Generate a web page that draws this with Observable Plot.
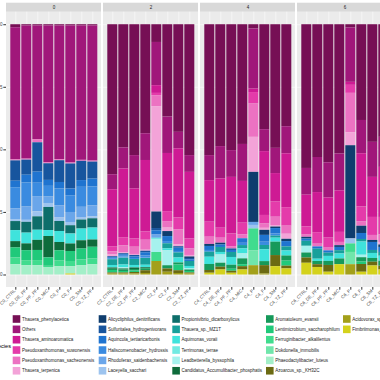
<!DOCTYPE html>
<html><head><meta charset="utf-8">
<script src="https://cdn.jsdelivr.net/npm/d3@7"></script>
<script src="https://cdn.jsdelivr.net/npm/@observablehq/plot@0.6"></script>
<style>
html,body{margin:0;padding:0;background:#fff;overflow:hidden;width:380px;height:380px;}
#chart{width:380px;height:308px;overflow:visible;}
#chart svg{display:block;margin-left:-40px;max-width:none !important;width:440px !important;height:308px !important;}
#legend{display:block;}
</style></head><body>
<div id="chart"></div>
<svg id="legend" width="380" height="72"></svg>
<script>
const days = [0, 2, 4, 6];
const suffixes = ["CTRL","DE_PF","PF_PF","MIC","P","F","SM","TZ_PF"];
const species = [
 "Thauera_phenylacetica","Others","Thauera_aminoaromatica","Pseudoxanthomonas_suwonensis","Pseudoxanthomonas_sacheonensis","Thauera_terpenica",
 "Alicycliphilus_denitrificans","Sulfuritalea_hydrogenivorans","Aquincola_tertiaricarbonis","Haliscomenobacter_hydrossis","Rhodoferax_saidenbachensis","Laceyella_sacchari",
 "Propionivibrio_dicarboxylicus","Thauera_sp._MZ1T","Aquimonas_voraii","Terrimonas_terrae","Leadbetterella_byssophila","Candidatus_Accumulibacter_phosphatis",
 "Aromatoleum_evansii","Lentimicrobium_saccharophilum","Ferruginibacter_alkalilentus","Dokdonella_immobilis","Phaeodactylibacter_luteus","Azoarcus_sp._KH32C",
 "Acidovorax_sp._KKS102","Fimbriimonas_ginsengisoli"];
const colors = [
 "#760F55","#A0177A","#CE1A94","#E43BAA","#EC72C2","#F3A3D8",
 "#0F3D6E","#17559E","#1F74D0","#3A8BE0","#6AA6EA","#9DC4EF",
 "#0D6E6A","#17A09B","#3FE3DC","#72EAE2","#A6F2EE","#0E6B3B",
 "#16995A","#20C97A","#40DC8E","#70E6AB","#A3EFC8","#6B6A12",
 "#A3A01A","#D4D21C"];
const yTicks = [0, 0.25, 0.5, 0.75, 1];

// one row per sample (CTRL..TZ_PF), values in species order
const day0 = [
 [.012,.527,0,0,.004,0, 0,.081,.026,.084,.043,.008, .036,0,.044,0,0,.025, 0,.040,.027,0,.041,0, 0,0],
 [.005,.531,0,0,.004,0, 0,.060,.031,.096,.053,.008, .043,0,.043,0,0,.027, 0,.040,.020,0,.037,0, 0,0],
 [.005,.450,0,0,.012,0, 0,.116,.044,.053,.060,.020, .053,0,.040,0,0,.040, 0,.040,.020,0,.037,0, 0,0],
 [.005,.551,0,0,.004,0, 0,.067,.024,.043,.026,.016, .093,0,.024,0,0,.086, 0,.034,.005,0,.030,0, 0,0],
 [.005,.535,0,0,.004,0, 0,.087,.026,.067,.049,.014, .040,0,.044,0,0,.033, 0,.040,.024,0,.033,0, 0,0],
 [.005,.548,0,0,.004,0, 0,.100,.027,.067,.040,.013, .033,0,.040,0,0,.030, 0,.040,.021,0,.029,0, 0,.004],
 [.005,.538,0,0,.004,0, 0,.077,.027,.080,.043,.008, .036,0,.047,0,0,.033, 0,.044,.023,0,.037,0, 0,0],
 [.005,.541,0,0,.004,0, 0,.068,.031,.076,.044,.008, .037,0,.048,0,0,.029, 0,.047,.023,0,.041,0, 0,0]];
const day2 = [
 [.600,.060,.228,.020,.013,.007, 0,.004,.004,.004,0,0, 0,.023,.010,0,0,.005, .005,.010,0,0,0,.004, .004,0],
 [.492,.084,.275,.033,.027,.004, 0,.004,.006,.004,.004,0, 0,.027,.011,0,.005,.004, .006,.006,0,0,0,.004, .004,0],
 [.523,.133,.200,.033,.029,.004, 0,.006,.006,.004,0,0, 0,.024,.010,0,0,.006, .006,.006,0,0,0,.006, .004,0],
 [.436,.107,.286,.033,.040,.004, 0,.006,.013,.006,.004,0, 0,.027,.010,0,0,.004, .008,0,0,0,0,.011, .006,0],
 [.071,.173,.031,.009,.044,.422, .066,.009,.017,0,.013,0, 0,0,.004,0,.053,0, 0,0,.036,0,0,0, .054,0],
 [.370,.146,.233,.040,.026,.014, .020,0,.020,.009,0,0, 0,.020,.008,0,.060,0, .013,0,0,0,0,.013, .011,0],
 [.430,.066,.276,.047,.060,.008, 0,.006,.013,.006,0,0, 0,.020,.020,0,0,0, .008,.023,0,0,0,.011, .006,0],
 [.523,.067,.266,.040,.026,.006, .006,.006,.006,0,0,0, 0,.020,.008,0,.006,0, .006,.006,0,0,0,.004, .004,0]];
const day4 = [
 [.523,.100,.166,.060,.029,0, .008,0,.016,.007,0,0, 0,.020,.029,0,0,0, .024,0,0,0,0,.011, 0,.007],
 [.487,.129,.197,.040,.020,0, .007,0,.010,0,0,0, 0,.020,.010,0,.033,0, .016,0,0,0,0,.011, 0,.020],
 [.503,.107,.226,.051,.009,0, 0,.006,.008,0,0,0, 0,.020,.031,0,0,0, .016,.008,0,0,0,.008, 0,.007],
 [.476,.147,.166,.046,.016,0, 0,0,.018,.009,0,0, 0,.013,.020,0,.020,0, .023,.008,0,0,0,.013, 0,.020],
 [.017,.240,.014,.046,.133,.140, .200,0,0,0,.012,.014, 0,0,0,0,0,0, 0,0,.087,.060,0,0, .037,0],
 [.416,.087,.253,.034,.017,.008, .020,0,.027,.013,0,0, 0,.017,.047,0,0,0, .016,0,0,0,0,.033, .004,0],
 [.490,.100,.113,.060,.033,.006, .006,0,.021,.009,0,0, 0,.008,.016,0,0,0, .053,0,0,0,0,.044, 0,.033],
 [.403,.107,.213,.073,.032,.020, .009,0,.021,0,0,0, 0,.016,.020,0,0,0, .020,.020,0,0,0,.011, 0,.024]];
const day6 = [
 [.576,.107,.127,.033,.009,0, .007,0,.009,0,0,0, 0,.020,0,0,.027,0, .020,0,0,0,0,.021, 0,.047],
 [.530,.140,.160,.046,.011,0, 0,0,.009,0,0,0, 0,.040,.009,0,0,0, .013,0,0,0,0,.011, 0,.030],
 [.550,.140,.160,.040,.011,0, 0,0,.009,0,0,0, 0,.013,.020,0,0,0, .016,0,0,0,0,.027, 0,.011],
 [.516,.147,.166,.040,.013,0, .007,0,.013,0,0,0, 0,.013,.020,0,0,0, .023,0,0,0,0,0, 0,.041],
 [.013,.217,.012,.032,.157,.052, .372,0,0,0,0,.020, 0,0,0,0,0,0, 0,0,.034,.049,0,0, .041,0],
 [.383,.133,.213,.060,.017,0, .029,0,.024,0,0,0, 0,.010,.053,0,.010,0, .017,.010,0,0,0,.031, 0,.011],
 [.470,.140,.160,.072,.020,0, .008,0,.032,0,0,0, 0,.012,.020,0,0,0, .015,0,0,0,0,.015, 0,.036],
 [.450,.120,.200,.070,.030,.010, .010,0,.020,0,0,0, 0,.015,.020,0,0,0, .020,0,0,0,0,.015, 0,.020]];

const byDay = {0: day0, 2: day2, 4: day4, 6: day6};
const rows = [];
for (const d of days) byDay[d].forEach((vals, i) => vals.forEach((v, k) =>
  rows.push({day: d, suffix: suffixes[i], species: species[k], value: v})));
const samples = days.flatMap(d => suffixes.map(s => ({day: d, suffix: s, name: `C${d}_${s}`})));

const font = "'Liberation Sans', Arial, sans-serif";
const chart = Plot.plot({
  width: 440, height: 308,
  marginLeft: 45.7, marginRight: 7.9, marginTop: 2.7, marginBottom: 21,
  style: {fontFamily: font, background: "white", overflow: "visible", maxWidth: "none"},
  fx: {domain: days, paddingInner: 0.024, paddingOuter: 0, axis: null, label: null},
  x: {domain: suffixes, paddingInner: 0.1, paddingOuter: 0.15, axis: null},
  y: {domain: [-0.05, 1.086], axis: null},
  color: {domain: species, range: colors},
  marks: [
    Plot.rect([0], {y1: -0.05, y2: 1.05, fill: "#EBEBEB"}),
    Plot.rect([0], {y1: 1.05, y2: 1.086, fill: "#D9D9D9"}),
    Plot.text(days, {fx: d => d, text: d => String(d), y: 1.068, fill: "#1A1A1A", fontSize: 4.5}),
    Plot.ruleY(yTicks, {stroke: "white", strokeWidth: 0.55}),
    Plot.ruleX(suffixes, {x: d => d, y1: -0.05, y2: 1.05, stroke: "white", strokeWidth: 0.55}),
    Plot.barY(rows, Plot.stackY({fx: "day", x: "suffix", y: "value", z: "species", fill: "species",
      order: species.slice().reverse(), offset: "normalize"})),
    Plot.axisY({ticks: yTicks, tickFormat: d3.format(".2f"), tickSize: 2.7, tickPadding: 1.2,
      fontSize: 4.5, color: "#4D4D4D", stroke: "#333", label: null}),
    Plot.axisX({tickFormat: () => "", tickSize: 2.7, stroke: "#333", label: null}),
    Plot.text(samples, {fx: "day", x: "suffix", text: "name", frameAnchor: "bottom", dy: 3.5,
      rotate: -45, textAnchor: "end", fontSize: 4.5, fill: "#4D4D4D"})
  ]
});
document.getElementById("chart").append(chart);

// legend
const color = chart.scale("color");
const leg = d3.select("#legend").style("font-family", font);
const colX = [12.7, 98.7, 172.3, 266, 343];
species.forEach((s, i) => {
  const c = Math.floor(i / 6), r = i % 6;
  const cy = 11 + r * 10.35;
  leg.append("rect").attr("x", colX[c]).attr("y", cy - 3.8).attr("width", 7.6).attr("height", 7.6)
    .attr("fill", color.apply(s));
  leg.append("text").attr("x", colX[c] + 9.3).attr("y", cy).attr("dy", "0.35em")
    .attr("font-size", 4.5).attr("fill", "#1A1A1A").text(s);
});
leg.append("text").attr("x", 11).attr("y", 37.7).attr("dy", "0.35em").attr("text-anchor", "end")
  .attr("font-size", 5.6).attr("fill", "#000").text("Species");
</script>
</body></html>
